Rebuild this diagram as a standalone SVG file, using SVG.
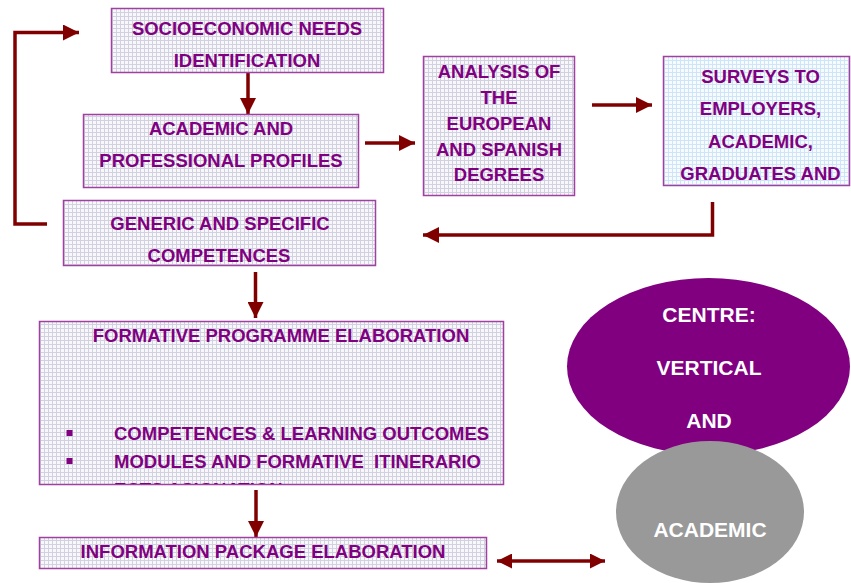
<svg xmlns="http://www.w3.org/2000/svg" width="851" height="583" viewBox="0 0 851 583">
  <defs>
    <style>
      .box { stroke: #a040a0; stroke-width: 1.5; }
      .lav { fill: url(#gridLav); }
      .blue { fill: url(#gridBlue); }
      .lbl { font-family: "Liberation Sans", Arial, sans-serif; font-weight: bold; font-size: 18.5px; fill: #800080; text-anchor: middle; }
      .lft { text-anchor: start; }
      .wht { fill: #ffffff; font-size: 21px; }
      .conn { fill: none; stroke: #800000; stroke-width: 3.5; }
    </style>
    <pattern id="gridLav" width="4" height="4" patternUnits="userSpaceOnUse">
      <rect width="4" height="4" fill="#f8f8fb"/>
      <path d="M0 0.5H4M0.5 0V4" stroke="#d2d1e2" stroke-width="1"/>
    </pattern>
    <pattern id="gridBlue" width="4" height="4" patternUnits="userSpaceOnUse">
      <rect width="4" height="4" fill="#f6fbff"/>
      <path d="M0 0.5H4M0.5 0V4" stroke="#cfe4f7" stroke-width="1"/>
    </pattern>
    <marker id="ah" viewBox="0 0 16 16" markerWidth="16" markerHeight="16" refX="16" refY="8" orient="auto-start-reverse" markerUnits="userSpaceOnUse">
      <path d="M0 0L16 8L0 16Z" fill="#800000"/>
    </marker>
    <marker id="ahs" viewBox="0 0 16 16" markerWidth="15" markerHeight="15" refX="16" refY="8" orient="auto-start-reverse" markerUnits="userSpaceOnUse">
      <path d="M0 0L16 8L0 16Z" fill="#800000"/>
    </marker>
    <clipPath id="formClip">
      <rect x="40" y="322" width="463" height="162"/>
    </clipPath>
  </defs>

  <!-- connectors -->
  <g id="connectors">
    <path class="conn" d="M47 224H15V32.5H79" marker-end="url(#ah)"/>
    <path class="conn" d="M248 73V114" marker-end="url(#ah)"/>
    <path class="conn" d="M365 143H415" marker-end="url(#ah)"/>
    <path class="conn" d="M592 105H652" marker-end="url(#ah)"/>
    <path class="conn" d="M712.5 202V235H423" marker-end="url(#ah)"/>
    <path class="conn" d="M255.5 272V318" marker-end="url(#ah)"/>
    <path class="conn" d="M256 490V537" marker-end="url(#ah)"/>
    <path class="conn" d="M497 561H605" stroke-width="3" marker-start="url(#ahs)" marker-end="url(#ahs)"/>
  </g>

  <!-- process boxes -->
  <g id="socioeconomic">
    <rect class="box lav" x="111.5" y="8.5" width="272" height="64"/>
    <text class="lbl" x="247" y="35">SOCIOECONOMIC NEEDS</text>
    <text class="lbl" x="247" y="66.5">IDENTIFICATION</text>
  </g>

  <g id="profiles">
    <rect class="box lav" x="83.5" y="114.5" width="275" height="73"/>
    <text class="lbl" x="221" y="135">ACADEMIC AND</text>
    <text class="lbl" x="221" y="166.5">PROFESSIONAL PROFILES</text>
  </g>

  <g id="competences">
    <rect class="box lav" x="63.5" y="200.5" width="312" height="65"/>
    <text class="lbl" x="220" y="230">GENERIC AND SPECIFIC</text>
    <text class="lbl" x="219" y="261.5">COMPETENCES</text>
  </g>

  <g id="analysis">
    <rect class="box lav" x="423.5" y="56.5" width="151" height="139"/>
    <text class="lbl" x="499" y="77.5">ANALYSIS OF</text>
    <text class="lbl" x="499" y="104">THE</text>
    <text class="lbl" x="499" y="130">EUROPEAN</text>
    <text class="lbl" x="499" y="155.5">AND SPANISH</text>
    <text class="lbl" x="499" y="180.5">DEGREES</text>
  </g>

  <g id="surveys">
    <rect class="box blue" x="663.5" y="56.5" width="186" height="129"/>
    <text class="lbl" x="760.5" y="83">SURVEYS TO</text>
    <text class="lbl" x="760.5" y="115">EMPLOYERS,</text>
    <text class="lbl" x="760.5" y="147.5">ACADEMIC,</text>
    <text class="lbl" x="760.5" y="179.5">GRADUATES AND</text>
  </g>

  <g id="formative">
    <rect class="box lav" x="39.5" y="321.5" width="464" height="163"/>
    <text class="lbl" x="281" y="341.5">FORMATIVE PROGRAMME ELABORATION</text>
    <rect x="66.5" y="430" width="6" height="6" fill="#800080"/>
    <rect x="66.5" y="458" width="6" height="6" fill="#800080"/>
    <text class="lbl lft" x="114" y="439.5">COMPETENCES &amp; LEARNING OUTCOMES</text>
    <text class="lbl lft" x="114" y="467.5" xml:space="preserve">MODULES AND FORMATIVE  ITINERARIO</text>
    <text class="lbl lft" x="114" y="495.5" clip-path="url(#formClip)">ECTS ASIGNATION</text>
  </g>

  <g id="information">
    <rect class="box lav" x="39.5" y="537.5" width="447" height="31"/>
    <text class="lbl" x="263" y="557.5">INFORMATION PACKAGE ELABORATION</text>
  </g>

  <!-- centre ellipses -->
  <g id="centre">
    <ellipse cx="708.5" cy="366.5" rx="141.5" ry="88.5" fill="#800080"/>
    <text class="lbl wht" x="709" y="322">CENTRE:</text>
    <text class="lbl wht" x="709" y="375">VERTICAL</text>
    <text class="lbl wht" x="709" y="427.5">AND</text>
  </g>

  <g id="academic">
    <ellipse cx="710" cy="512" rx="94" ry="71" fill="#999999"/>
    <text class="lbl wht" x="710" y="537">ACADEMIC</text>
  </g>
</svg>
